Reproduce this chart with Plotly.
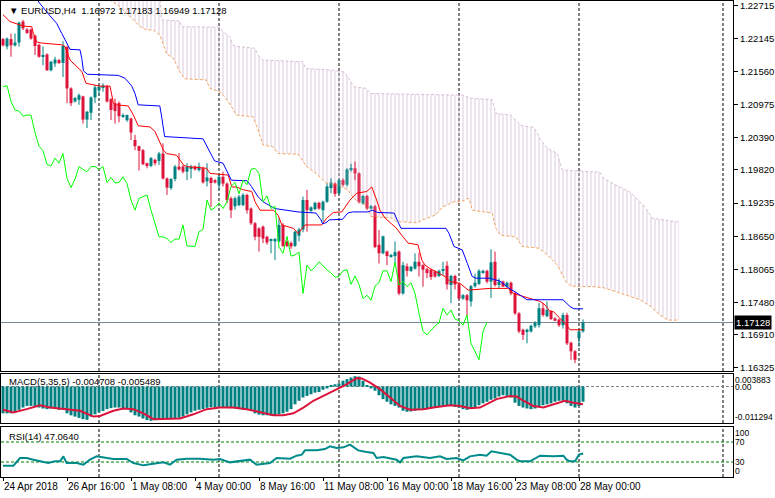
import plotly.graph_objects as go

# ---------------- data ----------------
opens = [1.2213, 1.2200, 1.2213, 1.2202, 1.2207, 1.2244, 1.2230, 1.2230, 1.2219, 1.2203,
         1.2182, 1.2186, 1.2158, 1.2170, 1.2176, 1.2171, 1.2199, 1.2126, 1.2103, 1.2106,
         1.2112, 1.2071, 1.2083, 1.2110, 1.2123, 1.2128, 1.2130, 1.2107, 1.2100, 1.2100,
         1.2077, 1.2070, 1.2073, 1.2035, 1.2024, 1.2017, 1.1994, 1.1989, 1.2000, 1.1998,
         1.2011, 1.1967, 1.1950, 1.1966, 1.1988, 1.1988, 1.1979, 1.1985, 1.1988, 1.1982,
         1.1985, 1.1962, 1.1968, 1.1964, 1.1956, 1.1970, 1.1958, 1.1932, 1.1918, 1.1920,
         1.1920, 1.1938, 1.1914, 1.1888, 1.1879, 1.1882, 1.1864, 1.1858, 1.1856, 1.1856,
         1.1885, 1.1856, 1.1853, 1.1848, 1.1866, 1.1877, 1.1929, 1.1910, 1.1913, 1.1924,
         1.1911, 1.1926, 1.1950, 1.1958, 1.1941, 1.1964, 1.1956, 1.1982, 1.1985, 1.1976,
         1.1923, 1.1936, 1.1914, 1.1918, 1.1850, 1.1835, 1.1838, 1.1829, 1.1830, 1.1838,
         1.1764, 1.1812, 1.1804, 1.1808, 1.1820, 1.1814, 1.1807, 1.1806, 1.1803, 1.1795,
         1.1804, 1.1813, 1.1779, 1.1795, 1.1780, 1.1755, 1.1761, 1.1750, 1.1777, 1.1781,
         1.1800, 1.1804, 1.1785, 1.1820, 1.1779, 1.1785, 1.1776, 1.1783, 1.1765, 1.1729,
         1.1700, 1.1697, 1.1697, 1.1706, 1.1708, 1.1738, 1.1724, 1.1733, 1.1720, 1.1718,
         1.1708, 1.1726, 1.1677, 1.1662, 1.1685, 1.16972]
highs = [1.2215, 1.2216, 1.2223, 1.2223, 1.2244, 1.2247, 1.2233, 1.2232, 1.2221, 1.2205,
         1.2200, 1.2188, 1.2175, 1.2182, 1.2178, 1.2209, 1.2201, 1.2128, 1.2111, 1.2117,
         1.2113, 1.2086, 1.2112, 1.2132, 1.2132, 1.2135, 1.2132, 1.2109, 1.2108, 1.2103,
         1.2082, 1.2080, 1.2074, 1.2044, 1.2025, 1.2019, 1.1995, 1.2005, 1.2002, 1.2014,
         1.2029, 1.1969, 1.1968, 1.1991, 1.2012, 1.1991, 1.1994, 1.1991, 1.1990, 1.1995,
         1.1988, 1.1994, 1.1970, 1.1966, 1.1976, 1.1979, 1.1960, 1.1935, 1.1935, 1.1938,
         1.1941, 1.1940, 1.1916, 1.1890, 1.1881, 1.1884, 1.1866, 1.1861, 1.1862, 1.1897,
         1.1888, 1.1858, 1.1856, 1.1875, 1.1880, 1.1935, 1.1947, 1.1918, 1.1926, 1.1926,
         1.1928, 1.1958, 1.1967, 1.1960, 1.1966, 1.1967, 1.1985, 1.1993, 1.1997, 1.1978,
         1.1938, 1.1938, 1.1920, 1.1920, 1.1876, 1.1866, 1.1840, 1.1834, 1.1856, 1.1840,
         1.1820, 1.1817, 1.1813, 1.1835, 1.1836, 1.1816, 1.1809, 1.1808, 1.1805, 1.1806,
         1.1820, 1.1821, 1.1797, 1.1797, 1.1782, 1.1763, 1.1763, 1.1779, 1.1799, 1.1807,
         1.1806, 1.1806, 1.1842, 1.1838, 1.1791, 1.1787, 1.1785, 1.1785, 1.1767, 1.1731,
         1.1702, 1.1702, 1.1709, 1.1715, 1.1747, 1.1747, 1.1750, 1.1735, 1.1722, 1.1720,
         1.1730, 1.1730, 1.1679, 1.1664, 1.1700, 1.17183]
lows = [1.2200, 1.2195, 1.2182, 1.2200, 1.2200, 1.2229, 1.2222, 1.2212, 1.2185, 1.2180,
        1.2167, 1.2157, 1.2156, 1.2164, 1.2169, 1.2146, 1.2100, 1.2095, 1.2101, 1.2097,
        1.2064, 1.2056, 1.2070, 1.2100, 1.2114, 1.2120, 1.2101, 1.2070, 1.2064, 1.2066,
        1.2074, 1.2067, 1.2035, 1.2017, 1.1981, 1.1991, 1.1985, 1.1987, 1.1990, 1.1991,
        1.1965, 1.1938, 1.1947, 1.1962, 1.1981, 1.1976, 1.1964, 1.1967, 1.1981, 1.1979,
        1.1958, 1.1953, 1.1917, 1.1958, 1.1947, 1.1953, 1.1923, 1.1897, 1.1912, 1.1918,
        1.1918, 1.1905, 1.1885, 1.1858, 1.1838, 1.1853, 1.1850, 1.1835, 1.1823, 1.1854,
        1.1846, 1.1846, 1.1843, 1.1846, 1.1856, 1.1872, 1.1873, 1.1908, 1.1911, 1.1912,
        1.1891, 1.1924, 1.1941, 1.1935, 1.1939, 1.1953, 1.1953, 1.1979, 1.1964, 1.1923,
        1.1921, 1.1911, 1.1912, 1.1844, 1.1817, 1.1833, 1.1814, 1.1827, 1.1817, 1.1761,
        1.1762, 1.1794, 1.1802, 1.1806, 1.1794, 1.1776, 1.1791, 1.1788, 1.1792, 1.1793,
        1.1797, 1.1771, 1.1747, 1.1771, 1.1754, 1.1753, 1.1724, 1.1741, 1.1774, 1.1779,
        1.1799, 1.1782, 1.1756, 1.1776, 1.1773, 1.1776, 1.1774, 1.1761, 1.1726, 1.1694,
        1.1682, 1.1676, 1.1695, 1.1703, 1.1704, 1.1723, 1.1722, 1.1717, 1.1715, 1.1705,
        1.1702, 1.1673, 1.1647, 1.1641, 1.1670, 1.16949]
closes = [1.2202, 1.2214, 1.2202, 1.2207, 1.2242, 1.2232, 1.2224, 1.2214, 1.2201, 1.2182,
          1.2185, 1.2158, 1.2173, 1.2177, 1.2171, 1.2201, 1.2126, 1.2100, 1.2109, 1.2114,
          1.2071, 1.2085, 1.2110, 1.2128, 1.2129, 1.2131, 1.2103, 1.2088, 1.2086, 1.2077,
          1.2079, 1.2079, 1.2048, 1.2024, 1.2016, 1.1992, 1.1989, 1.2003, 1.1994, 1.2011,
          1.1967, 1.1951, 1.1966, 1.1988, 1.1983, 1.1979, 1.1988, 1.1988, 1.1983, 1.1988,
          1.1960, 1.1969, 1.1959, 1.1960, 1.1970, 1.1958, 1.1929, 1.1911, 1.1932, 1.1935,
          1.1938, 1.1911, 1.1888, 1.1864, 1.1864, 1.1861, 1.1854, 1.1860, 1.1860, 1.1885,
          1.1848, 1.1848, 1.1847, 1.1873, 1.1877, 1.1929, 1.1911, 1.1916, 1.1924, 1.1914,
          1.1926, 1.1953, 1.1960, 1.1940, 1.1964, 1.1956, 1.1983, 1.1985, 1.1976, 1.1926,
          1.1936, 1.1914, 1.1918, 1.1846, 1.1835, 1.1865, 1.1830, 1.1832, 1.1837, 1.1764,
          1.1814, 1.1804, 1.1811, 1.1820, 1.1812, 1.1806, 1.1800, 1.1793, 1.1794, 1.1804,
          1.1806, 1.1780, 1.1795, 1.1780, 1.1755, 1.1761, 1.1752, 1.1777, 1.1783, 1.1804,
          1.1804, 1.1785, 1.1819, 1.1779, 1.1785, 1.1776, 1.1783, 1.1764, 1.1729, 1.1697,
          1.1691, 1.1700, 1.1707, 1.1712, 1.1738, 1.1726, 1.1735, 1.1719, 1.1716, 1.1708,
          1.1726, 1.1676, 1.1662, 1.1647, 1.1697, 1.17128]

# Ichimoku lines: (bar position, price)
tenkan = [(0, 1.2256), (1.75, 1.2244), (3.0, 1.2241), (5.1, 1.2236), (7.2, 1.2235), (7.6, 1.2223),
          (8.4, 1.2208), (9.7, 1.2206), (14.7, 1.2203), (15.5, 1.2200), (16.75, 1.2176), (18.8, 1.2162),
          (19.7, 1.2156), (20.75, 1.2135), (24.25, 1.2130), (26.75, 1.2130), (27.6, 1.2100), (28.4, 1.2097),
          (31.3, 1.2095), (32.6, 1.2079), (33.8, 1.2060), (36.75, 1.2058), (38.0, 1.2050), (40.1, 1.2017),
          (40.9, 1.2011), (43.4, 1.2008), (45.1, 1.1991), (45.9, 1.1988), (50.9, 1.1985), (51.75, 1.1976),
          (56.3, 1.1973), (57.2, 1.1952), (58.4, 1.1952), (60.1, 1.1947), (62.2, 1.1944), (63.0, 1.1926),
          (64.25, 1.1911), (67.6, 1.1911), (68.8, 1.1902), (69.7, 1.1885), (72.6, 1.1879), (73.8, 1.1870),
          (75.5, 1.1885), (79.7, 1.1885), (80.9, 1.1897), (82.6, 1.1907), (84.7, 1.1908), (86.75, 1.1929),
          (88.4, 1.1941), (90.9, 1.1944), (92.2, 1.1952), (93.4, 1.1929), (94.25, 1.1911), (95.5, 1.1897),
          (98.25, 1.1880), (100.0, 1.1864), (101.25, 1.1853), (103.75, 1.1850), (104.7, 1.1823),
          (105.5, 1.1814), (106.75, 1.1808), (110.5, 1.1794), (111.75, 1.1785), (114.25, 1.1782),
          (116.3, 1.1770), (121.75, 1.1773), (126.3, 1.1773), (127.6, 1.1764), (134.25, 1.1750),
          (135.5, 1.1744), (136.75, 1.1732), (137.6, 1.1732), (139.7, 1.1717), (140.9, 1.1708),
          (141.75, 1.1700), (145, 1.1700)]
kijun = [(8.25, 1.2286), (9.1, 1.2277), (11.75, 1.2254), (13.4, 1.2241), (14.7, 1.2223), (15.9, 1.2206),
         (16.75, 1.2195), (19.25, 1.2194), (19.7, 1.2179), (20.1, 1.2157), (21.1, 1.2151), (28.8, 1.2149),
         (30.5, 1.2144), (32.2, 1.2130), (33, 1.2117), (33.8, 1.2097), (39.2, 1.2095), (39.6, 1.2079),
         (40.4, 1.2041), (50, 1.2037), (51.25, 1.2020), (52.1, 1.2011), (52.9, 1.1998), (55, 1.1994),
         (55.8, 1.1982), (56.7, 1.1970), (57.1, 1.1964), (61, 1.1963), (62.1, 1.1953), (63.75, 1.1935),
         (65, 1.1926), (67.9, 1.1914), (71.25, 1.1911), (73.75, 1.1908), (78.25, 1.1906), (79.5, 1.1894),
         (79.9, 1.1887), (80.75, 1.1889), (81.6, 1.1894), (84.9, 1.1895), (86.2, 1.1906), (87.4, 1.1908),
         (91.2, 1.1908), (92.4, 1.1911), (93.7, 1.1907), (97.8, 1.1906), (98.7, 1.1891), (99.5, 1.1879),
         (110.75, 1.1879), (111.5, 1.1870), (112.75, 1.1847), (113.6, 1.1844), (114.8, 1.1841),
         (116.1, 1.1817), (117.3, 1.1794), (118.25, 1.1791), (121.75, 1.1791), (122.6, 1.1789),
         (124.25, 1.1786), (126.75, 1.1772), (128, 1.1767), (131, 1.1753), (140, 1.1753),
         (141.75, 1.1741), (142.75, 1.1737), (145, 1.1737)]
span_a = [(25.5, 1.2287), (28.75, 1.2273), (31.3, 1.2256), (34.25, 1.2235), (35.9, 1.2229), (37.6, 1.2229),
          (39.25, 1.2220), (40.1, 1.2203), (40.9, 1.2187), (42.6, 1.2179), (44.25, 1.2155), (45.4, 1.2143),
          (50.8, 1.2141), (51.7, 1.2126), (54.2, 1.2120), (55.4, 1.2111), (57.1, 1.2094), (58.3, 1.2079),
          (62.5, 1.2076), (63.75, 1.2053), (65, 1.2026), (67.5, 1.2023), (68.75, 1.2011), (73.75, 1.2010),
          (74.5, 1.2003), (75.75, 1.1989), (78.25, 1.1976), (80.75, 1.1959), (83.25, 1.1956), (86.2, 1.1947),
          (87.4, 1.1935), (88.7, 1.1926), (90.75, 1.1920), (92, 1.1900), (97.4, 1.1897), (98.25, 1.1891),
          (103.7, 1.1889), (104.9, 1.1894), (108.25, 1.1903), (109.9, 1.1917), (112.75, 1.1926),
          (114.4, 1.1926), (116.5, 1.1932), (117.3, 1.1911), (122.3, 1.1906), (123.2, 1.1879),
          (124.4, 1.1867), (128.2, 1.1864), (129.8, 1.1847), (134, 1.1844), (136.1, 1.1832),
          (138.6, 1.1814), (139.4, 1.1802), (140.7, 1.1785), (141.9, 1.1777), (147.75, 1.1776),
          (150.25, 1.1774), (153, 1.1767), (156.25, 1.1760), (159.25, 1.1753), (161.75, 1.1742),
          (164.25, 1.1726), (166.25, 1.1717), (169, 1.1717)]
span_b = [(24.25, 1.2300), (39.25, 1.2291), (39.6, 1.2247), (44.2, 1.2245), (44.6, 1.2235), (54.2, 1.2234),
          (55, 1.2226), (56.7, 1.2217), (57.5, 1.2203), (58.3, 1.2200), (62.9, 1.2197), (63.75, 1.2185),
          (65, 1.2176), (74.9, 1.2173), (75.75, 1.2161), (81.2, 1.2159), (85.3, 1.2155), (86.6, 1.2141),
          (87.8, 1.2129), (90.75, 1.2126), (92, 1.2117), (115.25, 1.2114), (116.5, 1.2109), (122.3, 1.2106),
          (123.2, 1.2082), (126.9, 1.2079), (129.4, 1.2061), (132.75, 1.2057), (134.4, 1.2035),
          (136.1, 1.2020), (138.6, 1.2011), (139.8, 1.1982), (149.25, 1.1978), (150, 1.1968),
          (152.25, 1.1959), (156.75, 1.1943), (160.5, 1.1917), (162.25, 1.1897), (165.5, 1.1894),
          (169, 1.1890)]
chikou_shift = 24

macd_main = [-0.0083, -0.0083, -0.0083, -0.0080, -0.0072, -0.0065, -0.0060, -0.0060, -0.0062, -0.0065,
             -0.0068, -0.0070, -0.0068, -0.0067, -0.0072, -0.0072, -0.0083, -0.0089, -0.0093, -0.0097,
             -0.0101, -0.0103, -0.0093, -0.0086, -0.0080, -0.0076, -0.0070, -0.0067, -0.0065, -0.0065,
             -0.0067, -0.0070, -0.0080, -0.0089, -0.0093, -0.0099, -0.0104, -0.0106, -0.0104, -0.0103,
             -0.0101, -0.0101, -0.0101, -0.0099, -0.0097, -0.0093, -0.0086, -0.0080, -0.0075, -0.0072,
             -0.0070, -0.0066, -0.0064, -0.0065, -0.0063, -0.0065, -0.0064, -0.0067, -0.0068, -0.0070,
             -0.0072, -0.0070, -0.0073, -0.0083, -0.0087, -0.0089, -0.0089, -0.0090, -0.0089, -0.0086,
             -0.0083, -0.0078, -0.0070, -0.0055, -0.0044, -0.0034, -0.0029, -0.0024, -0.0019, -0.0017,
             -0.0010, -0.0006, 0.0004, 0.0007, 0.0010, 0.0018, 0.0023, 0.0028, 0.0032, 0.0031,
             0.0018, 0.0002, -0.0006, -0.0013, -0.0027, -0.0039, -0.0047, -0.0055, -0.0060, -0.0065,
             -0.0075, -0.0078, -0.0077, -0.0075, -0.0072, -0.0070, -0.0070, -0.0068, -0.0065, -0.0062,
             -0.0060, -0.0058, -0.0060, -0.0063, -0.0065, -0.0070, -0.0072, -0.0068, -0.0065, -0.0058,
             -0.0052, -0.0047, -0.0041, -0.0037, -0.0031, -0.0027, -0.0029, -0.0034, -0.0050, -0.0060,
             -0.0065, -0.0068, -0.0070, -0.0068, -0.0062, -0.0058, -0.0055, -0.0052, -0.0047, -0.0044,
             -0.0044, -0.0052, -0.0060, -0.0065, -0.0060, -0.004708]
macd_signal = [(0, -0.0072), (2.6, -0.0080), (5.9, -0.0070), (9.25, -0.0058), (11.75, -0.0065),
               (15.9, -0.0070), (19.25, -0.0075), (22.6, -0.0093), (24.25, -0.0091), (27.6, -0.0075),
               (30.1, -0.0068), (32.6, -0.0070), (35.1, -0.0083), (37.6, -0.0101), (40.9, -0.0101),
               (44.25, -0.0099), (47.6, -0.0086), (50.9, -0.0070), (54.25, -0.0065), (57.6, -0.0065),
               (60.9, -0.0070), (64.25, -0.0079), (67.6, -0.0089), (70.1, -0.0089), (72.6, -0.0083),
               (75.1, -0.0065), (77.6, -0.0044), (80.1, -0.0029), (82.6, -0.0013), (85.9, 0.0007),
               (88.4, 0.0026), (89.7, 0.0025), (91.75, 0.0012), (94.25, -0.0008), (96.75, -0.0034),
               (99.25, -0.0060), (101.75, -0.0072), (105.1, -0.0070), (107.6, -0.0065), (111.75, -0.0058),
               (114.25, -0.0060), (116.75, -0.0067), (119.25, -0.0065), (121.75, -0.0050), (123.4, -0.0039),
               (126.75, -0.0029), (128.4, -0.0031), (130.1, -0.0044), (132.6, -0.0060), (135.1, -0.0065),
               (137.6, -0.0055), (140.5, -0.0044), (142.6, -0.0050), (145, -0.005489)]
rsi = [(0, 22.7), (2.6, 22.7), (4.25, 38), (5.9, 38), (7.6, 34.7), (10.1, 29.3), (11.3, 28), (13, 31.3),
       (14.25, 31.3), (15.1, 41.3), (15.9, 28), (18.4, 28), (20.1, 24.7), (21.75, 34.7), (23.4, 41.3),
       (26, 38), (27.6, 36), (30.9, 36), (32.6, 28), (35.1, 23.3), (37.6, 26.7), (40.1, 29.3),
       (41.75, 24.7), (43.4, 34.7), (45.9, 36.7), (49.25, 36.7), (52.6, 34.7), (54.25, 36),
       (56.75, 29.3), (59.25, 31.3), (61.75, 34.7), (63.4, 24.7), (66.75, 28), (68.4, 38),
       (71.75, 36.7), (73.4, 42.7), (74.7, 44.7), (75.5, 53.3), (78.4, 53.3), (80.5, 56),
       (81.75, 61.3), (83.4, 58), (85.1, 59.3), (86.75, 64.7), (88.8, 53.3), (90.9, 50), (92.6, 48),
       (93.4, 38), (95.1, 40), (98.4, 34.7), (99.25, 29.3), (100.1, 38), (103.4, 41.3), (106.75, 38),
       (109.25, 41.3), (110.9, 36), (113.4, 38), (115.1, 33.3), (116.75, 41.3), (119.25, 44.7),
       (120.9, 42.7), (122.1, 51.3), (124.25, 48), (126.75, 44.7), (128.4, 34.7), (129.25, 31.3),
       (131.75, 31.3), (134.25, 42.7), (137.6, 41.3), (140.1, 42.7), (140.9, 34.7), (141.75, 31.3),
       (143, 31.3), (144, 44.7), (145, 47.064)]

price_ticks = [1.22715, 1.22145, 1.21560, 1.20975, 1.20390, 1.19820, 1.19235, 1.18650,
               1.18065, 1.17480, 1.16910, 1.16325]
x_tick_bars = [0, 16, 32, 48, 64, 80, 96, 112, 128, 144]
x_tick_labels = ["24 Apr 2018", "26 Apr 16:00", "1 May 08:00", "4 May 00:00", "8 May 16:00",
                 "11 May 08:00", "16 May 00:00", "18 May 16:00", "23 May 08:00", "28 May 00:00"]
week_start_bars = [24, 54, 84, 114, 144, 180]
macd_scale = [0.003883, 0.0, -0.011294]
rsi_scale = [100, 70, 30, 0]
rsi_levels = [70, 30]

# ---------------- styling ----------------
BULL = "#008080"
BEAR = "#DC143C"
FONT = "Liberation Sans"
FS = 9.5
x_range = [-0.5, 182.5]
price_range = [1.16272, 1.22803]
dom_main = [0.2227, 1.0]
dom_macd = [0.1134, 0.2164]
dom_rsi = [0.0, 0.1050]

n = len(opens)
bars = list(range(n))
fig = go.Figure()

# Ichimoku cloud
fig.add_trace(go.Scatter(x=[p[0] for p in span_a], y=[p[1] for p in span_a], mode="lines",
                         line=dict(color="#F4A460", width=1, dash="3px,2px"), hoverinfo="skip"))
fig.add_trace(go.Scatter(x=[p[0] for p in span_b], y=[p[1] for p in span_b], mode="lines",
                         line=dict(color="#D8BFD8", width=1, dash="3px,2px"), fill="tonexty",
                         fillcolor="rgba(255,255,255,0)",
                         fillpattern=dict(shape="|", size=4, solidity=0.25, fgcolor="#D2BCD2",
                                          fgopacity=0.8, bgcolor="rgba(255,255,255,0)"),
                         hoverinfo="skip"))

# candles
body_base = [min(o, c) for o, c in zip(opens, closes)]
body_h = [max(abs(c - o), 0.00018) for o, c in zip(opens, closes)]
body_col = [BULL if c >= o else BEAR for o, c in zip(opens, closes)]
fig.add_trace(go.Bar(x=bars, y=body_h, base=body_base, width=0.75, marker_color=body_col,
                     marker_line_width=0, hoverinfo="skip"))
for col, cond in ((BULL, True), (BEAR, False)):
    wx, wy = [], []
    for i in bars:
        if (closes[i] >= opens[i]) == cond:
            wx += [i, i, None]
            wy += [lows[i], highs[i], None]
    fig.add_trace(go.Scatter(x=wx, y=wy, mode="lines", line=dict(color=col, width=1),
                             hoverinfo="skip"))

# Ichimoku lines
fig.add_trace(go.Scatter(x=[p[0] for p in tenkan], y=[p[1] for p in tenkan], mode="lines",
                         line=dict(color="#FF0000", width=1), hoverinfo="skip"))
fig.add_trace(go.Scatter(x=[p[0] for p in kijun], y=[p[1] for p in kijun], mode="lines",
                         line=dict(color="#0000FF", width=1), hoverinfo="skip"))
fig.add_trace(go.Scatter(x=[i - chikou_shift for i in bars[chikou_shift:]], y=closes[chikou_shift:],
                         mode="lines", line=dict(color="#00FF00", width=1), hoverinfo="skip"))

# MACD
fig.add_trace(go.Bar(x=bars, y=macd_main, width=0.75, marker_color=BULL, marker_line_width=0,
                     xaxis="x2", yaxis="y2", hoverinfo="skip"))
fig.add_trace(go.Scatter(x=[p[0] for p in macd_signal], y=[p[1] for p in macd_signal], mode="lines",
                         line=dict(color=BEAR, width=2), xaxis="x2", yaxis="y2", hoverinfo="skip"))

# RSI
fig.add_trace(go.Scatter(x=[p[0] for p in rsi], y=[p[1] for p in rsi], mode="lines",
                         line=dict(color="#008B8B", width=2), xaxis="x3", yaxis="y3",
                         hoverinfo="skip"))

shapes = []
for b in week_start_bars:
    for xr, yr in (("x", "y domain"), ("x2", "y2 domain"), ("x3", "y3 domain")):
        shapes.append(dict(type="line", xref=xr, yref=yr, x0=b, x1=b, y0=0, y1=1, layer="below",
                           line=dict(color="black", width=1, dash="3px,2px")))
last_price = closes[-1]
shapes.append(dict(type="line", xref="x domain", yref="y", x0=0, x1=1, y0=last_price, y1=last_price,
                   layer="below", line=dict(color="#778899", width=1)))
shapes.append(dict(type="line", xref="x2 domain", yref="y2", x0=0, x1=1, y0=0, y1=0, layer="below",
                   line=dict(color="#808080", width=1, dash="3px,2px")))
for lv in rsi_levels:
    shapes.append(dict(type="line", xref="x3 domain", yref="y3", x0=0, x1=1, y0=lv, y1=lv,
                       layer="below", line=dict(color="#008000", width=1, dash="3px,2px")))

ann = []
hdr = "▼ EURUSD,H4  {:.5f} {:.5f} {:.5f} {:.5f}".format(opens[-1], highs[-1], lows[-1], closes[-1])
ann.append(dict(text=hdr, xref="paper", yref="paper", x=0.008, y=0.981, xanchor="left",
                yanchor="middle", showarrow=False, font=dict(family=FONT, size=FS, color="black")))
ann.append(dict(text="MACD(5,35,5) {:.6f} {:.6f}".format(macd_main[-1], macd_signal[-1][1]),
                xref="paper", yref="paper", x=0.008, y=0.1996, xanchor="left", yanchor="middle",
                showarrow=False, font=dict(family=FONT, size=FS, color="black")))
ann.append(dict(text="RSI(14) {:.4f}".format(rsi[-1][1]), xref="paper", yref="paper", x=0.008,
                y=0.0861, xanchor="left", yanchor="middle", showarrow=False,
                font=dict(family=FONT, size=FS, color="black")))
ann.append(dict(text="{:.5f}".format(last_price), xref="paper", yref="y", x=1, y=last_price,
                xanchor="left", yanchor="middle", xshift=1, showarrow=False, bgcolor="black",
                borderpad=1, font=dict(family=FONT, size=FS, color="white")))
for v, anc in zip(macd_scale, ["top", "middle", "bottom"]):
    txt = "{:.2f}".format(v) if v == 0 else "{:g}".format(v)
    ann.append(dict(text=txt, xref="paper", yref="y2", x=1, y=v, xanchor="left", yanchor=anc,
                    xshift=1, borderpad=0, showarrow=False,
                    font=dict(family=FONT, size=8.5, color="black")))
for v, anc in zip(rsi_scale, ["top", "middle", "middle", "bottom"]):
    ann.append(dict(text=str(v), xref="paper", yref="y3", x=1, y=v, xanchor="left", yanchor=anc,
                    xshift=1, borderpad=0, showarrow=False,
                    font=dict(family=FONT, size=8.5, color="black")))

ax_common = dict(range=x_range, showgrid=False, zeroline=False, showline=True, mirror=True,
                 linecolor="black", linewidth=1, fixedrange=True)
fig.update_layout(
    width=775, height=498, margin=dict(l=1, r=42, t=1, b=21, autoexpand=False),
    paper_bgcolor="white", plot_bgcolor="white", showlegend=False, barmode="overlay",
    font=dict(family=FONT, size=FS, color="black"),
    xaxis=dict(ax_common, anchor="y", showticklabels=False, ticks=""),
    xaxis2=dict(ax_common, anchor="y2", matches="x", showticklabels=False, ticks=""),
    xaxis3=dict(ax_common, anchor="y3", matches="x", tickvals=x_tick_bars, ticktext=x_tick_labels,
                ticks="outside", ticklen=3, tickcolor="black", ticklabelposition="outside right",
                tickangle=0, automargin=False,
                tickfont=dict(family=FONT, size=10, color="black")),
    yaxis=dict(domain=dom_main, range=price_range, side="right", tickvals=price_ticks,
               tickformat=".5f", ticks="outside", ticklen=4, tickcolor="black", showgrid=False,
               zeroline=False, showline=True, mirror=True, linecolor="black", linewidth=1,
               automargin=False, tickfont=dict(family=FONT, size=FS, color="black"), fixedrange=True),
    yaxis2=dict(domain=dom_macd, range=[macd_scale[2], macd_scale[0]], side="right",
                showticklabels=False, ticks="", showgrid=False, zeroline=False, showline=True,
                mirror=True, linecolor="black", linewidth=1, fixedrange=True),
    yaxis3=dict(domain=dom_rsi, range=[0, 100], side="right", showticklabels=False, ticks="",
                showgrid=False, zeroline=False, showline=True, mirror=True, linecolor="black",
                linewidth=1, fixedrange=True),
    shapes=shapes, annotations=ann,
)
fig.write_html("out.html", config={"displayModeBar": False},
               post_script="document.body.style.margin='0px';document.body.style.overflow='hidden';")
